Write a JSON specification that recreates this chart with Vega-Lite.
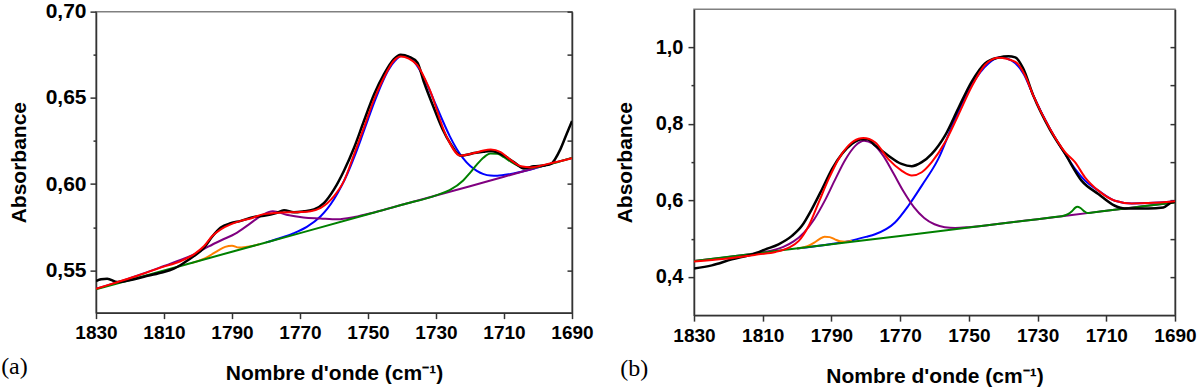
{
"$schema": "https://vega.github.io/schema/vega-lite/v6.json",
"background": "white",
"padding": {"left": 0, "top": -1, "right": 0, "bottom": 0},
"datasets": {
"a": [
{"s":"p1740","w":1780,"a":0.5662},{"s":"p1740","w":1776,"a":0.5686},{"s":"p1740","w":1772,"a":0.5714},{"s":"p1740","w":1768,"a":0.5752},{"s":"p1740","w":1764,"a":0.5812},{"s":"p1740","w":1762,"a":0.5856},{"s":"p1740","w":1760,"a":0.5912},{"s":"p1740","w":1758,"a":0.5981},{"s":"p1740","w":1756,"a":0.6063},{"s":"p1740","w":1754,"a":0.6159},{"s":"p1740","w":1752,"a":0.6265},{"s":"p1740","w":1750,"a":0.6375},{"s":"p1740","w":1748,"a":0.6482},{"s":"p1740","w":1746,"a":0.658},{"s":"p1740","w":1744,"a":0.6662},{"s":"p1740","w":1742,"a":0.6716},{"s":"p1740","w":1740,"a":0.6744},{"s":"p1740","w":1738,"a":0.6738},{"s":"p1740","w":1736,"a":0.6699},{"s":"p1740","w":1734,"a":0.6634},{"s":"p1740","w":1732,"a":0.655},{"s":"p1740","w":1730,"a":0.6458},{"s":"p1740","w":1728,"a":0.6366},{"s":"p1740","w":1726,"a":0.628},{"s":"p1740","w":1724,"a":0.6207},{"s":"p1740","w":1722,"a":0.6149},{"s":"p1740","w":1720,"a":0.6106},{"s":"p1740","w":1718,"a":0.6077},{"s":"p1740","w":1716,"a":0.6058},{"s":"p1740","w":1714,"a":0.605},{"s":"p1740","w":1712,"a":0.6049},{"s":"p1740","w":1708,"a":0.6059},{"s":"p1740","w":1704,"a":0.6076},{"s":"p1740","w":1700,"a":0.6097},{"s":"p1740","w":1696,"a":0.6119},
{"s":"p1780","w":1830,"a":0.5393},{"s":"p1780","w":1822,"a":0.5442},{"s":"p1780","w":1816,"a":0.5482},{"s":"p1780","w":1810,"a":0.5525},{"s":"p1780","w":1806,"a":0.5554},{"s":"p1780","w":1801,"a":0.5594},{"s":"p1780","w":1797,"a":0.5637},{"s":"p1780","w":1793,"a":0.5676},{"s":"p1780","w":1789,"a":0.5713},{"s":"p1780","w":1785,"a":0.5767},{"s":"p1780","w":1781,"a":0.5822},{"s":"p1780","w":1778,"a":0.5843},{"s":"p1780","w":1774,"a":0.5823},{"s":"p1780","w":1769,"a":0.5807},{"s":"p1780","w":1764,"a":0.5801},{"s":"p1780","w":1759,"a":0.5796},{"s":"p1780","w":1754,"a":0.5809},{"s":"p1780","w":1748,"a":0.5837},{"s":"p1780","w":1740,"a":0.588},{"s":"p1780","w":1730,"a":0.5934},{"s":"p1780","w":1720,"a":0.5988},{"s":"p1780","w":1710,"a":0.6043},{"s":"p1780","w":1700,"a":0.6097},{"s":"p1780","w":1690,"a":0.6152},
{"s":"p1790","w":1802,"a":0.5542},{"s":"p1790","w":1798,"a":0.557},{"s":"p1790","w":1796,"a":0.5592},{"s":"p1790","w":1794,"a":0.5616},{"s":"p1790","w":1792,"a":0.5636},{"s":"p1790","w":1790,"a":0.5643},{"s":"p1790","w":1788,"a":0.5632},{"s":"p1790","w":1786,"a":0.5635},{"s":"p1790","w":1784,"a":0.5641},{"s":"p1790","w":1782,"a":0.5651},
{"s":"p1714","w":1830,"a":0.539},{"s":"p1714","w":1810,"a":0.5499},{"s":"p1714","w":1790,"a":0.5608},{"s":"p1714","w":1770,"a":0.5716},{"s":"p1714","w":1750,"a":0.5825},{"s":"p1714","w":1740,"a":0.588},{"s":"p1714","w":1730,"a":0.5935},{"s":"p1714","w":1726,"a":0.5965},{"s":"p1714","w":1722,"a":0.6021},{"s":"p1714","w":1720,"a":0.6065},{"s":"p1714","w":1718,"a":0.6113},{"s":"p1714","w":1716,"a":0.6154},{"s":"p1714","w":1714,"a":0.6177},{"s":"p1714","w":1712,"a":0.6176},{"s":"p1714","w":1710,"a":0.6156},{"s":"p1714","w":1708,"a":0.613},{"s":"p1714","w":1706,"a":0.6108},{"s":"p1714","w":1704,"a":0.6096},{"s":"p1714","w":1702,"a":0.6095},{"s":"p1714","w":1700,"a":0.61},{"s":"p1714","w":1695,"a":0.6124},{"s":"p1714","w":1690,"a":0.6152},
{"s":"data","w":1830,"a":0.5438},{"s":"data","w":1828.5,"a":0.5448},{"s":"data","w":1826.7,"a":0.5452},{"s":"data","w":1823.7,"a":0.5432},{"s":"data","w":1819.8,"a":0.5444},{"s":"data","w":1815.9,"a":0.5463},{"s":"data","w":1811,"a":0.5486},{"s":"data","w":1807.1,"a":0.551},{"s":"data","w":1804.1,"a":0.5544},{"s":"data","w":1801.2,"a":0.5583},{"s":"data","w":1798.2,"a":0.5632},{"s":"data","w":1795.8,"a":0.5696},{"s":"data","w":1793.3,"a":0.5748},{"s":"data","w":1790.4,"a":0.5773},{"s":"data","w":1787.4,"a":0.5787},{"s":"data","w":1783.5,"a":0.581},{"s":"data","w":1780.6,"a":0.5816},{"s":"data","w":1777,"a":0.5832},{"s":"data","w":1774.7,"a":0.5849},{"s":"data","w":1771.8,"a":0.5837},{"s":"data","w":1768.8,"a":0.5843},{"s":"data","w":1765.9,"a":0.5853},{"s":"data","w":1762.9,"a":0.5891},{"s":"data","w":1760,"a":0.5969},{"s":"data","w":1757.1,"a":0.6076},{"s":"data","w":1754.1,"a":0.6211},{"s":"data","w":1751.2,"a":0.6366},{"s":"data","w":1748.2,"a":0.6521},{"s":"data","w":1745.3,"a":0.6638},{"s":"data","w":1742.4,"a":0.6725},{"s":"data","w":1740.4,"a":0.675},{"s":"data","w":1737.9,"a":0.6738},{"s":"data","w":1735.5,"a":0.6705},{"s":"data","w":1733.5,"a":0.6589},{"s":"data","w":1731,"a":0.646},{"s":"data","w":1728.1,"a":0.632},{"s":"data","w":1725.7,"a":0.6233},{"s":"data","w":1722.8,"a":0.6165},{"s":"data","w":1720.5,"a":0.6172},{"s":"data","w":1718.8,"a":0.618},{"s":"data","w":1716,"a":0.6188},{"s":"data","w":1713.9,"a":0.6192},{"s":"data","w":1710,"a":0.6165},{"s":"data","w":1707,"a":0.6126},{"s":"data","w":1704.1,"a":0.6091},{"s":"data","w":1701.2,"a":0.6103},{"s":"data","w":1698.5,"a":0.6108},{"s":"data","w":1696.3,"a":0.6116},{"s":"data","w":1693.4,"a":0.6203},{"s":"data","w":1691.7,"a":0.6285},{"s":"data","w":1690,"a":0.6366},
{"s":"fit","w":1830,"a":0.5393},{"s":"fit","w":1824,"a":0.543},{"s":"fit","w":1818,"a":0.5467},{"s":"fit","w":1811,"a":0.5516},{"s":"fit","w":1805,"a":0.5554},{"s":"fit","w":1801.2,"a":0.5593},{"s":"fit","w":1798.2,"a":0.5641},{"s":"fit","w":1795.8,"a":0.5699},{"s":"fit","w":1793.3,"a":0.5738},{"s":"fit","w":1790.4,"a":0.5767},{"s":"fit","w":1787.4,"a":0.5787},{"s":"fit","w":1784.5,"a":0.5801},{"s":"fit","w":1780.6,"a":0.5826},{"s":"fit","w":1775.7,"a":0.5835},{"s":"fit","w":1770,"a":0.5838},{"s":"fit","w":1766.9,"a":0.5843},{"s":"fit","w":1763.9,"a":0.5862},{"s":"fit","w":1760,"a":0.593},{"s":"fit","w":1757.1,"a":0.6017},{"s":"fit","w":1754.1,"a":0.6173},{"s":"fit","w":1751.2,"a":0.6327},{"s":"fit","w":1748.2,"a":0.6492},{"s":"fit","w":1745.3,"a":0.6618},{"s":"fit","w":1742.4,"a":0.6715},{"s":"fit","w":1740.4,"a":0.674},{"s":"fit","w":1738,"a":0.6728},{"s":"fit","w":1735.5,"a":0.669},{"s":"fit","w":1732,"a":0.6555},{"s":"fit","w":1727,"a":0.628},{"s":"fit","w":1722.8,"a":0.6165},{"s":"fit","w":1718.8,"a":0.618},{"s":"fit","w":1716,"a":0.6195},{"s":"fit","w":1713.9,"a":0.62},{"s":"fit","w":1711,"a":0.6185},{"s":"fit","w":1709,"a":0.6155},{"s":"fit","w":1705,"a":0.6103},{"s":"fit","w":1702.1,"a":0.6097},{"s":"fit","w":1697.3,"a":0.6116},{"s":"fit","w":1690,"a":0.615}
],
"b": [
{"s":"p1740","w":1800,"a":0.4743},{"s":"p1740","w":1790,"a":0.4861},{"s":"p1740","w":1785,"a":0.4935},{"s":"p1740","w":1780,"a":0.5045},{"s":"p1740","w":1777.3,"a":0.5114},{"s":"p1740","w":1771.5,"a":0.5422},{"s":"p1740","w":1767.6,"a":0.586},{"s":"p1740","w":1763.7,"a":0.6386},{"s":"p1740","w":1758.9,"a":0.7085},{"s":"p1740","w":1754,"a":0.8137},{"s":"p1740","w":1749.2,"a":0.9014},{"s":"p1740","w":1744.3,"a":0.9582},{"s":"p1740","w":1741,"a":0.9744},{"s":"p1740","w":1737.5,"a":0.965},{"s":"p1740","w":1734,"a":0.93},{"s":"p1740","w":1731.3,"a":0.8752},{"s":"p1740","w":1726.4,"a":0.7875},{"s":"p1740","w":1722,"a":0.7217},{"s":"p1740","w":1719.1,"a":0.6823},{"s":"p1740","w":1716.2,"a":0.6517},{"s":"p1740","w":1712.3,"a":0.6255},{"s":"p1740","w":1707.5,"a":0.5992},{"s":"p1740","w":1702.6,"a":0.5921},{"s":"p1740","w":1697.8,"a":0.5929},{"s":"p1740","w":1690,"a":0.5974},
{"s":"p1780","w":1830,"a":0.4415},{"s":"p1780","w":1815,"a":0.458},{"s":"p1780","w":1810,"a":0.4644},{"s":"p1780","w":1804,"a":0.4785},{"s":"p1780","w":1801,"a":0.4927},{"s":"p1780","w":1798,"a":0.5158},{"s":"p1780","w":1795,"a":0.5508},{"s":"p1780","w":1792,"a":0.598},{"s":"p1780","w":1789,"a":0.6529},{"s":"p1780","w":1786,"a":0.7055},{"s":"p1780","w":1783,"a":0.7431},{"s":"p1780","w":1780.5,"a":0.7557},{"s":"p1780","w":1778,"a":0.7485},{"s":"p1780","w":1775,"a":0.7175},{"s":"p1780","w":1772,"a":0.6715},{"s":"p1780","w":1769,"a":0.6232},{"s":"p1780","w":1766,"a":0.5826},{"s":"p1780","w":1763,"a":0.5542},{"s":"p1780","w":1760,"a":0.5376},{"s":"p1780","w":1757,"a":0.53},{"s":"p1780","w":1754,"a":0.5281},{"s":"p1780","w":1750,"a":0.53},{"s":"p1780","w":1740,"a":0.54},{"s":"p1780","w":1730,"a":0.5509},{"s":"p1780","w":1720,"a":0.5618},{"s":"p1780","w":1710,"a":0.5728},{"s":"p1780","w":1700,"a":0.5837},{"s":"p1780","w":1690,"a":0.5947},
{"s":"p1790","w":1800,"a":0.4743},{"s":"p1790","w":1797,"a":0.4801},{"s":"p1790","w":1795,"a":0.4895},{"s":"p1790","w":1793.5,"a":0.4989},{"s":"p1790","w":1792,"a":0.5051},{"s":"p1790","w":1790.5,"a":0.5039},{"s":"p1790","w":1789,"a":0.4981},{"s":"p1790","w":1787.5,"a":0.493},{"s":"p1790","w":1786,"a":0.492},{"s":"p1790","w":1784,"a":0.4945},
{"s":"p1718","w":1830,"a":0.4415},{"s":"p1718","w":1810,"a":0.4634},{"s":"p1718","w":1790,"a":0.4853},{"s":"p1718","w":1770,"a":0.5071},{"s":"p1718","w":1750,"a":0.529},{"s":"p1718","w":1730,"a":0.5509},{"s":"p1718","w":1725,"a":0.5564},{"s":"p1718","w":1723,"a":0.5586},{"s":"p1718","w":1721,"a":0.5647},{"s":"p1718","w":1720,"a":0.5718},{"s":"p1718","w":1719,"a":0.5809},{"s":"p1718","w":1718.5,"a":0.5835},{"s":"p1718","w":1717.5,"a":0.58},{"s":"p1718","w":1716.5,"a":0.572},{"s":"p1718","w":1715.5,"a":0.567},{"s":"p1718","w":1714,"a":0.5684},{"s":"p1718","w":1710,"a":0.5728},{"s":"p1718","w":1705,"a":0.5783},{"s":"p1718","w":1700,"a":0.5837},{"s":"p1718","w":1695,"a":0.5892},{"s":"p1718","w":1690,"a":0.5947},
{"s":"data","w":1830,"a":0.4221},{"s":"data","w":1824.8,"a":0.43},{"s":"data","w":1819,"a":0.4458},{"s":"data","w":1813.1,"a":0.4589},{"s":"data","w":1809.2,"a":0.472},{"s":"data","w":1805.4,"a":0.4852},{"s":"data","w":1801.5,"a":0.5072},{"s":"data","w":1798.6,"a":0.5335},{"s":"data","w":1795.7,"a":0.5773},{"s":"data","w":1792.7,"a":0.6297},{"s":"data","w":1789.8,"a":0.6823},{"s":"data","w":1786.9,"a":0.7217},{"s":"data","w":1784,"a":0.748},{"s":"data","w":1781.1,"a":0.7595},{"s":"data","w":1779.5,"a":0.76},{"s":"data","w":1777.3,"a":0.7437},{"s":"data","w":1773.5,"a":0.7174},{"s":"data","w":1769.6,"a":0.6954},{"s":"data","w":1766.6,"a":0.6894},{"s":"data","w":1763.7,"a":0.6999},{"s":"data","w":1760.8,"a":0.7217},{"s":"data","w":1756.9,"a":0.77},{"s":"data","w":1753.1,"a":0.84},{"s":"data","w":1749.2,"a":0.91},{"s":"data","w":1745.3,"a":0.9582},{"s":"data","w":1741.4,"a":0.9732},{"s":"data","w":1738.5,"a":0.977},{"s":"data","w":1736.5,"a":0.974},{"s":"data","w":1734.2,"a":0.945},{"s":"data","w":1731.3,"a":0.8752},{"s":"data","w":1726.4,"a":0.785},{"s":"data","w":1722,"a":0.722},{"s":"data","w":1717.2,"a":0.6517},{"s":"data","w":1712.3,"a":0.6166},{"s":"data","w":1707.5,"a":0.586},{"s":"data","w":1704.6,"a":0.579},{"s":"data","w":1697.8,"a":0.579},{"s":"data","w":1693.4,"a":0.5816},{"s":"data","w":1691,"a":0.5947},{"s":"data","w":1690,"a":0.597},
{"s":"fit","w":1830,"a":0.44},{"s":"fit","w":1820.9,"a":0.4476},{"s":"fit","w":1811.2,"a":0.4589},{"s":"fit","w":1806.3,"a":0.4651},{"s":"fit","w":1802.4,"a":0.4765},{"s":"fit","w":1799.5,"a":0.494},{"s":"fit","w":1796.6,"a":0.5335},{"s":"fit","w":1793.7,"a":0.5947},{"s":"fit","w":1790.8,"a":0.656},{"s":"fit","w":1787.9,"a":0.7085},{"s":"fit","w":1785,"a":0.7437},{"s":"fit","w":1782.1,"a":0.7611},{"s":"fit","w":1780.7,"a":0.763},{"s":"fit","w":1777.3,"a":0.752},{"s":"fit","w":1773.5,"a":0.7085},{"s":"fit","w":1769.6,"a":0.678},{"s":"fit","w":1766.6,"a":0.665},{"s":"fit","w":1763.7,"a":0.6736},{"s":"fit","w":1760.8,"a":0.6999},{"s":"fit","w":1756.9,"a":0.7524},{"s":"fit","w":1753.1,"a":0.8226},{"s":"fit","w":1749.2,"a":0.897},{"s":"fit","w":1745.3,"a":0.954},{"s":"fit","w":1741.4,"a":0.9732},{"s":"fit","w":1736.6,"a":0.9627},{"s":"fit","w":1733.7,"a":0.9277},{"s":"fit","w":1731.3,"a":0.8752},{"s":"fit","w":1726.4,"a":0.7875},{"s":"fit","w":1722,"a":0.7262},{"s":"fit","w":1719.1,"a":0.6999},{"s":"fit","w":1716.2,"a":0.6604},{"s":"fit","w":1712.3,"a":0.6255},{"s":"fit","w":1707.5,"a":0.5992},{"s":"fit","w":1702.6,"a":0.5921},{"s":"fit","w":1697.8,"a":0.5929},{"s":"fit","w":1690,"a":0.5974}
]
},
"spacing": 19,
"center": true,
"hconcat": [
{
"width": 476, "height": 301,
"data": {"name": "a"},
"title": {"text": "(a)", "orient": "bottom", "anchor": "start", "frame": "bounds", "font": "Liberation Serif", "fontSize": 24, "fontWeight": "normal", "color": "#000", "offset": -29, "dx": -7},
"resolve": {"axis": {"y": "independent"}},
"layer": [
{"transform": [{"filter": "datum.s === 'p1740'"}], "mark": {"type": "line", "color": "#0000ff", "strokeWidth": 2, "interpolate": "monotone", "clip": true},
 "encoding": {
  "x": {"field": "w", "type": "quantitative", "scale": {"domain": [1690, 1830], "reverse": true, "nice": false, "zero": false},
        "axis": {"title": "Nombre d'onde (cm⁻¹)", "values": [1830,1820,1810,1800,1790,1780,1770,1760,1750,1740,1730,1720,1710,1700,1690], "labelExpr": "(1830 - datum.value) % 20 == 0 ? toString(datum.value) : ''", "tickSize": {"condition": {"test": "(1830 - datum.value) % 20 != 0", "value": 3}, "value": 6}, "labelPadding": 5, "titlePadding": 20, "labelOverlap": false, "labelFlush": false}},
  "y": {"field": "a", "type": "quantitative", "scale": {"domain": [0.5255, 0.7], "nice": false, "zero": false},
        "axis": {"title": "Absorbance", "values": [0.55,0.575,0.6,0.625,0.65,0.675,0.7], "labelExpr": "round(datum.value*1000) % 50 == 0 ? replace(format(datum.value, '.2f'), '.', ',') : ''", "tickSize": {"condition": {"test": "round(datum.value*1000) % 50 != 0", "value": 3}, "value": 6}, "labelPadding": 4, "titlePadding": 16, "labelFontSize": 21}}
 }},
{"transform": [{"filter": "datum.s === 'p1780'"}], "mark": {"type": "line", "color": "#800080", "strokeWidth": 2, "interpolate": "monotone", "clip": true},
 "encoding": {"x": {"field": "w", "type": "quantitative", "scale": {"domain": [1690, 1830], "reverse": true, "nice": false, "zero": false}},
  "y": {"field": "a", "type": "quantitative", "scale": {"domain": [0.5255, 0.7], "nice": false, "zero": false}, "axis": null}}},
{"transform": [{"filter": "datum.s === 'p1790'"}], "mark": {"type": "line", "color": "#ff8000", "strokeWidth": 2, "interpolate": "monotone", "clip": true},
 "encoding": {"x": {"field": "w", "type": "quantitative", "scale": {"domain": [1690, 1830], "reverse": true, "nice": false, "zero": false}},
  "y": {"field": "a", "type": "quantitative", "scale": {"domain": [0.5255, 0.7], "nice": false, "zero": false}, "axis": null}}},
{"transform": [{"filter": "datum.s === 'p1714'"}], "mark": {"type": "line", "color": "#008000", "strokeWidth": 2, "interpolate": "monotone", "clip": true},
 "encoding": {"x": {"field": "w", "type": "quantitative", "scale": {"domain": [1690, 1830], "reverse": true, "nice": false, "zero": false}},
  "y": {"field": "a", "type": "quantitative", "scale": {"domain": [0.5255, 0.7], "nice": false, "zero": false}, "axis": null}}},
{"transform": [{"filter": "datum.s === 'data'"}], "mark": {"type": "line", "color": "#000000", "strokeWidth": 2.5, "interpolate": "monotone", "clip": true},
 "encoding": {"x": {"field": "w", "type": "quantitative", "scale": {"domain": [1690, 1830], "reverse": true, "nice": false, "zero": false}},
  "y": {"field": "a", "type": "quantitative", "scale": {"domain": [0.5255, 0.7], "nice": false, "zero": false}, "axis": null}}},
{"transform": [{"filter": "datum.s === 'fit'"}], "mark": {"type": "line", "color": "#ff0000", "strokeWidth": 2, "interpolate": "monotone", "clip": true},
 "encoding": {"x": {"field": "w", "type": "quantitative", "scale": {"domain": [1690, 1830], "reverse": true, "nice": false, "zero": false}},
  "y": {"field": "a", "type": "quantitative", "scale": {"domain": [0.5255, 0.7], "nice": false, "zero": false},
        "axis": {"orient": "right", "title": null, "labels": false, "values": [0.55,0.575,0.6,0.625,0.65,0.675,0.7], "tickSize": -5}}}}
]
},
{
"width": 481, "height": 306,
"data": {"name": "b"},
"title": {"text": "(b)", "orient": "bottom", "anchor": "start", "frame": "bounds", "font": "Liberation Serif", "fontSize": 24, "fontWeight": "normal", "color": "#000", "offset": -29, "dx": 6},
"resolve": {"axis": {"y": "independent"}},
"layer": [
{"transform": [{"filter": "datum.s === 'p1740'"}], "mark": {"type": "line", "color": "#0000ff", "strokeWidth": 2, "interpolate": "monotone", "clip": true},
 "encoding": {
  "x": {"field": "w", "type": "quantitative", "scale": {"domain": [1690, 1830], "reverse": true, "nice": false, "zero": false},
        "axis": {"title": "Nombre d'onde (cm⁻¹)", "values": [1830,1820,1810,1800,1790,1780,1770,1760,1750,1740,1730,1720,1710,1700,1690], "labelExpr": "(1830 - datum.value) % 20 == 0 ? toString(datum.value) : ''", "tickSize": {"condition": {"test": "(1830 - datum.value) % 20 != 0", "value": 3}, "value": 6}, "labelPadding": 5, "titlePadding": 20, "labelOverlap": false, "labelFlush": false}},
  "y": {"field": "a", "type": "quantitative", "scale": {"domain": [0.3, 1.1], "nice": false, "zero": false},
        "axis": {"title": "Absorbance", "values": [0.4,0.5,0.6,0.7,0.8,0.9,1.0], "labelExpr": "round(datum.value*10) % 2 == 0 ? replace(format(datum.value, '.1f'), '.', ',') : ''", "tickSize": {"condition": {"test": "round(datum.value*10) % 2 != 0", "value": 3}, "value": 6}, "labelPadding": 5, "titlePadding": 20, "labelFontSize": 20}}
 }},
{"transform": [{"filter": "datum.s === 'p1780'"}], "mark": {"type": "line", "color": "#800080", "strokeWidth": 2, "interpolate": "monotone", "clip": true},
 "encoding": {"x": {"field": "w", "type": "quantitative", "scale": {"domain": [1690, 1830], "reverse": true, "nice": false, "zero": false}},
  "y": {"field": "a", "type": "quantitative", "scale": {"domain": [0.3, 1.1], "nice": false, "zero": false}, "axis": null}}},
{"transform": [{"filter": "datum.s === 'p1790'"}], "mark": {"type": "line", "color": "#ff8000", "strokeWidth": 2, "interpolate": "monotone", "clip": true},
 "encoding": {"x": {"field": "w", "type": "quantitative", "scale": {"domain": [1690, 1830], "reverse": true, "nice": false, "zero": false}},
  "y": {"field": "a", "type": "quantitative", "scale": {"domain": [0.3, 1.1], "nice": false, "zero": false}, "axis": null}}},
{"transform": [{"filter": "datum.s === 'p1718'"}], "mark": {"type": "line", "color": "#008000", "strokeWidth": 2, "interpolate": "monotone", "clip": true},
 "encoding": {"x": {"field": "w", "type": "quantitative", "scale": {"domain": [1690, 1830], "reverse": true, "nice": false, "zero": false}},
  "y": {"field": "a", "type": "quantitative", "scale": {"domain": [0.3, 1.1], "nice": false, "zero": false}, "axis": null}}},
{"transform": [{"filter": "datum.s === 'data'"}], "mark": {"type": "line", "color": "#000000", "strokeWidth": 2.5, "interpolate": "monotone", "clip": true},
 "encoding": {"x": {"field": "w", "type": "quantitative", "scale": {"domain": [1690, 1830], "reverse": true, "nice": false, "zero": false}},
  "y": {"field": "a", "type": "quantitative", "scale": {"domain": [0.3, 1.1], "nice": false, "zero": false}, "axis": null}}},
{"transform": [{"filter": "datum.s === 'fit'"}], "mark": {"type": "line", "color": "#ff0000", "strokeWidth": 2, "interpolate": "monotone", "clip": true},
 "encoding": {"x": {"field": "w", "type": "quantitative", "scale": {"domain": [1690, 1830], "reverse": true, "nice": false, "zero": false}},
  "y": {"field": "a", "type": "quantitative", "scale": {"domain": [0.3, 1.1], "nice": false, "zero": false},
        "axis": {"orient": "right", "title": null, "labels": false, "values": [0.4,0.5,0.6,0.7,0.8,0.9,1.0], "tickSize": -5}}}}
]
}
],
"config": {
"view": {"stroke": "#808080", "strokeWidth": 1.5},
"axis": {"labelFont": "Liberation Sans", "labelFontWeight": "bold", "labelFontSize": 19, "labelColor": "#000", "titleFont": "Liberation Sans", "titleFontWeight": "bold", "titleFontSize": 21, "titleColor": "#000", "domainColor": "#333", "domainWidth": 1.5, "tickColor": "#333", "tickWidth": 1.5, "grid": false}
}
}
